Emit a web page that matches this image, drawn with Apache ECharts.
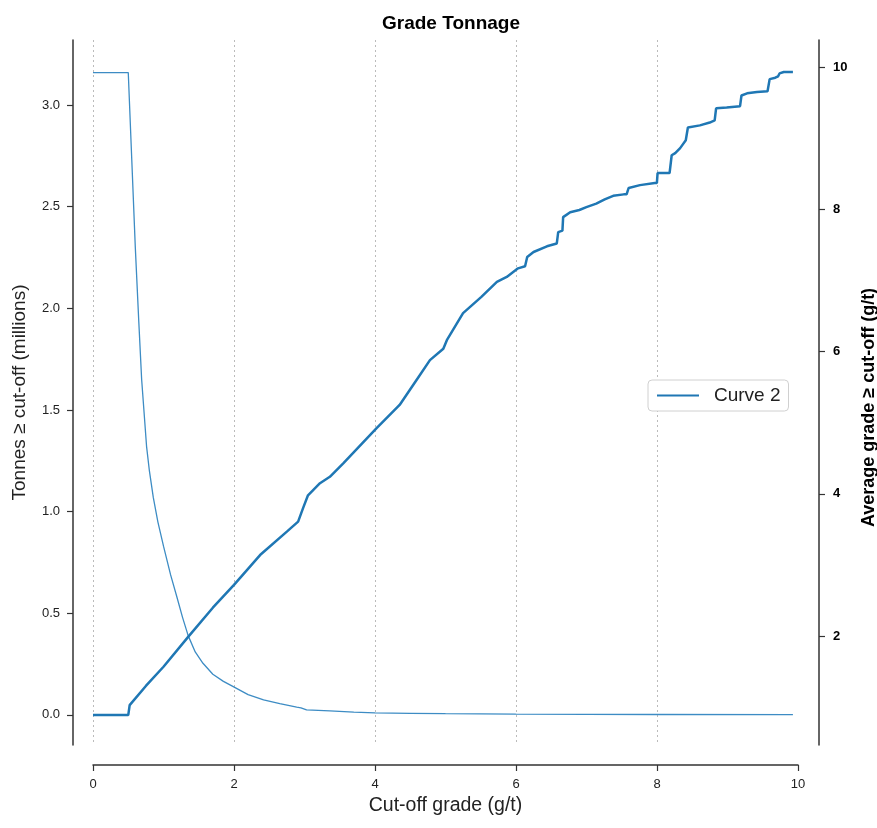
<!DOCTYPE html>
<html>
<head>
<meta charset="utf-8">
<title>Grade Tonnage</title>
<script src="https://cdn.jsdelivr.net/npm/echarts@6/dist/echarts.min.js"></script>
<style>
  html, body { margin: 0; padding: 0; background: #fff; }
  #chart { width: 877px; height: 828px; }
</style>
</head>
<body>
<div id="chart"></div>
<script>
var dom = document.getElementById("chart");
var myChart = echarts.init(dom);

// tonnage above cut-off (millions), [cut-off, tonnes]
var tonnage = [
	[0, 3.16], [0.5, 3.16], [0.55, 2.73], [0.6, 2.30], [0.65, 1.93], [0.69, 1.65],
	[0.76, 1.32], [0.8, 1.2], [0.855, 1.07], [0.92, 0.95], [1.0, 0.83], [1.1, 0.69],
	[1.19, 0.58], [1.27, 0.48], [1.35, 0.39], [1.45, 0.31], [1.56, 0.254], [1.7, 0.2],
	[1.85, 0.165], [1.99, 0.139], [2.2, 0.1], [2.42, 0.074], [2.65, 0.055], [2.89, 0.038],
	[2.95, 0.035], [3.03, 0.025], [3.36, 0.02], [3.7, 0.014], [4, 0.01], [4.5, 0.008],
	[5, 0.006], [6, 0.004], [7, 0.003], [8, 0.002], [9.93, 0.001]
];

// average grade above cut-off (g/t), [cut-off, grade]
var avgGrade = [
	[0, 0.89], [0.5, 0.89], [0.52, 1.03], [0.75, 1.3], [1.0, 1.57], [1.35, 1.99],
	[1.7, 2.4], [2.0, 2.72], [2.37, 3.14], [2.75, 3.47], [2.91, 3.61], [2.98, 3.80],
	[3.05, 3.98], [3.22, 4.15], [3.36, 4.24], [3.55, 4.43], [4.02, 4.92], [4.35, 5.25],
	[4.59, 5.60], [4.78, 5.88], [4.97, 6.04], [5.02, 6.16], [5.25, 6.54], [5.51, 6.77],
	[5.73, 6.98], [5.87, 7.05], [6.03, 7.17], [6.13, 7.2], [6.16, 7.33], [6.25, 7.4],
	[6.44, 7.48], [6.58, 7.52], [6.6, 7.68], [6.66, 7.7], [6.67, 7.89], [6.77, 7.96],
	[6.9, 7.99], [7.0, 8.03], [7.14, 8.08], [7.26, 8.14], [7.38, 8.19], [7.53, 8.21],
	[7.57, 8.21], [7.6, 8.30], [7.76, 8.34], [7.97, 8.37], [8.0, 8.37], [8.01, 8.51],
	[8.18, 8.51], [8.21, 8.76], [8.26, 8.79], [8.33, 8.86], [8.41, 8.97], [8.44, 9.15],
	[8.61, 9.18], [8.75, 9.22], [8.82, 9.25], [8.84, 9.42], [8.99, 9.43], [9.18, 9.45],
	[9.2, 9.60], [9.28, 9.63], [9.42, 9.65], [9.57, 9.66], [9.6, 9.83], [9.68, 9.85],
	[9.72, 9.87], [9.74, 9.91], [9.8, 9.93], [9.93, 9.93]
];

var leftTicks = [0, 0.5, 1.0, 1.5, 2.0, 2.5, 3.0];
var rightTicks = [2, 4, 6, 8, 10];

var axisColor = '#333';
var textColor = '#222';

var option = {
	textStyle: {
		fontFamily: '"Liberation Sans", Arial, sans-serif'
	},
	title: {
		text: 'Grade Tonnage',
		left: 446,
		top: 9,
		textAlign: 'center',
		textStyle: {
			color: '#000',
			fontSize: 19,
			fontWeight: 'bold'
		}
	},
	legend: {
		data: ['Curve 2'],
		left: 648,
		top: 380,
		padding: [6, 8, 6, 8],
		itemWidth: 42,
		itemHeight: 14,
		itemStyle: { opacity: 0 },
		backgroundColor: '#fff',
		borderColor: '#d0d0d0',
		borderWidth: 1,
		borderRadius: 4,
		textStyle: {
			color: textColor,
			fontSize: 19,
			padding: [0, 0, 0, 10]
		}
	},
	grid: [{
		left: 73,
		right: 58,
		top: 40,
		bottom: 83,
		outerBoundsMode: 'none'
	}, {
		left: 93,
		right: 79,
		top: 40,
		bottom: 83,
		outerBoundsMode: 'none'
	}],
	xAxis: [{
		// data scale, spans the whole plot area
		type: 'value',
		gridIndex: 0,
		min: -0.284,
		max: 10.3,
		show: false
	}, {
		// visible cut-off axis, offset below the plot
		type: 'value',
		gridIndex: 1,
		min: 0,
		max: 10,
		interval: 2,
		offset: 20,
		name: 'Cut-off grade (g/t)',
		nameLocation: 'middle',
		nameGap: 28,
		nameTextStyle: {
			color: textColor,
			fontSize: 19.5
		},
		axisLine: {
			onZero: false,
			lineStyle: { color: axisColor, width: 1.5 }
		},
		axisTick: {
			length: 6,
			lineStyle: { color: axisColor, width: 1.2 }
		},
		axisLabel: {
			color: textColor,
			fontSize: 13,
			margin: 13
		},
		splitLine: {
			show: true,
			showMaxLine: false,
			lineStyle: { color: '#bbb', width: 1, type: [2, 3] }
		}
	}],
	yAxis: [{
		type: 'value',
		gridIndex: 0,
		position: 'left',
		min: -0.148,
		max: 3.32,
		name: 'Tonnes \u2265 cut-off (millions)',
		nameLocation: 'middle',
		nameGap: 44,
		nameTextStyle: {
			color: textColor,
			fontSize: 19
		},
		axisLine: {
			show: true,
			onZero: false,
			lineStyle: { color: axisColor, width: 1.5 }
		},
		axisTick: {
			show: true,
			length: 6,
			customValues: leftTicks,
			lineStyle: { color: axisColor, width: 1.2 }
		},
		axisLabel: {
			color: textColor,
			fontSize: 13,
			margin: 13,
			customValues: leftTicks,
			formatter: function (v) {
				return v.toFixed(1);
			}
		},
		splitLine: { show: false }
	}, {
		type: 'value',
		gridIndex: 0,
		position: 'right',
		min: 0.47,
		max: 10.38,
		name: 'Average grade \u2265 cut-off (g/t)',
		nameLocation: 'middle',
		nameGap: 41,
		nameTextStyle: {
			color: '#000',
			fontSize: 18,
			fontWeight: 'bold',
			padding: [0, 30, 0, 0]
		},
		axisLine: {
			show: true,
			onZero: false,
			lineStyle: { color: axisColor, width: 1.5 }
		},
		axisTick: {
			show: true,
			length: 6,
			customValues: rightTicks,
			lineStyle: { color: axisColor, width: 1.2 }
		},
		axisLabel: {
			color: '#000',
			fontSize: 13,
			fontWeight: 'bold',
			margin: 14,
			customValues: rightTicks
		},
		splitLine: { show: false }
	}, {
		type: 'value',
		gridIndex: 1,
		show: false
	}],
	series: [{
		name: 'Curve 1',
		type: 'line',
		xAxisIndex: 0,
		yAxisIndex: 0,
		symbol: 'none',
		lineStyle: { color: '#3d8cc4', width: 1.3 },
		itemStyle: { color: '#3d8cc4' },
		data: tonnage,
		z: 2
	}, {
		name: 'Curve 2',
		type: 'line',
		xAxisIndex: 0,
		yAxisIndex: 1,
		symbol: 'none',
		lineStyle: { color: '#1f77b4', width: 2.5 },
		itemStyle: { color: '#1f77b4' },
		data: avgGrade,
		z: 3
	}]
};

if (option && typeof option === "object") {
	myChart.setOption(option, true);
}
</script>
</body>
</html>
